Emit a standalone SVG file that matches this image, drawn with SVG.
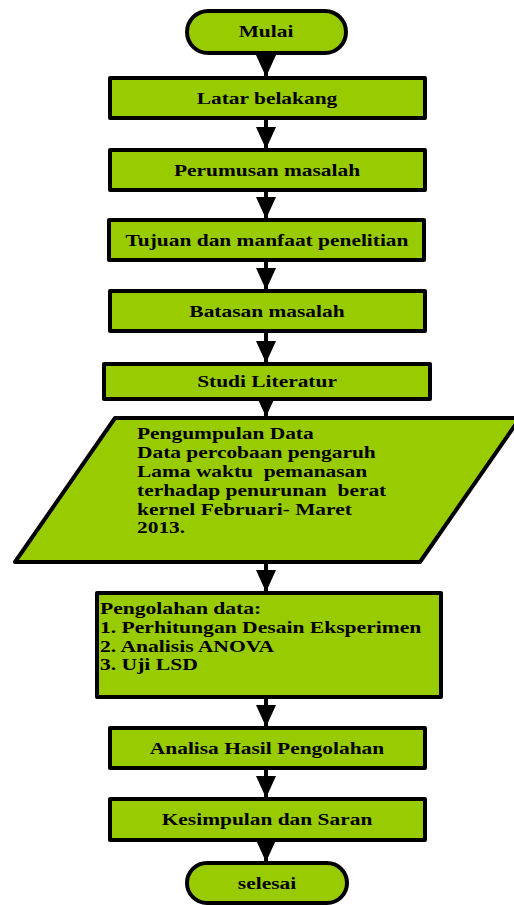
<svg xmlns="http://www.w3.org/2000/svg" width="514" height="905" viewBox="0 0 514 905">
<style>
.n{fill:#99CC00;stroke:#000;stroke-width:4;stroke-linejoin:round}
.t{font-family:"Liberation Serif","Times New Roman",serif;font-weight:bold;font-size:17px;fill:#000;white-space:pre}
.c{text-anchor:middle}
.e{stroke:#000;stroke-width:4;fill:none}
</style>
<defs>
<marker id="ah" markerUnits="userSpaceOnUse" markerWidth="22" markerHeight="20" refX="22" refY="10" orient="auto" viewBox="0 0 22 20">
<path d="M0,0 L22,10 L0,20 Z" fill="#000"/>
</marker>
</defs>
<g id="connectors">
<line class="e" x1="266" y1="53" x2="266" y2="77" marker-end="url(#ah)"/>
<line class="e" x1="266" y1="118" x2="266" y2="149" marker-end="url(#ah)"/>
<line class="e" x1="266" y1="190" x2="266" y2="219" marker-end="url(#ah)"/>
<line class="e" x1="266" y1="260" x2="266" y2="290" marker-end="url(#ah)"/>
<line class="e" x1="266" y1="331" x2="266" y2="363" marker-end="url(#ah)"/>
<line class="e" x1="266" y1="399" x2="266" y2="417" marker-end="url(#ah)"/>
<line class="e" x1="266" y1="562" x2="266" y2="592" marker-end="url(#ah)"/>
<line class="e" x1="266" y1="697" x2="266" y2="727" marker-end="url(#ah)"/>
<line class="e" x1="266" y1="768" x2="266" y2="798" marker-end="url(#ah)"/>
<line class="e" x1="266" y1="840" x2="266" y2="862" marker-end="url(#ah)"/>
</g>
<g id="mulai">
<rect class="n" x="187" y="11" width="159" height="42" rx="21"/>
<text class="t c" transform="translate(266,37) scale(1.26,1)">Mulai</text>
</g>
<g id="latar">
<rect class="n" x="110" y="78" width="315" height="40"/>
<text class="t c" transform="translate(267,104) scale(1.26,1)">Latar belakang</text>
</g>
<g id="perumusan">
<rect class="n" x="110" y="150" width="315" height="40"/>
<text class="t c" transform="translate(267,176) scale(1.26,1)">Perumusan masalah</text>
</g>
<g id="tujuan">
<rect class="n" x="109" y="220" width="315" height="40"/>
<text class="t c" transform="translate(267,246) scale(1.26,1)">Tujuan dan manfaat penelitian</text>
</g>
<g id="batasan">
<rect class="n" x="110" y="291" width="315" height="40"/>
<text class="t c" transform="translate(267,317) scale(1.26,1)">Batasan masalah</text>
</g>
<g id="studi">
<rect class="n" x="104" y="364" width="326" height="35"/>
<text class="t c" transform="translate(267,387) scale(1.26,1)">Studi Literatur</text>
</g>
<g id="pengumpulan">
<polygon class="n" points="115,418 520,418 420,562 15,562"/>
<g transform="translate(137,0) scale(1.26,1)">
<text class="t" x="0" y="439">Pengumpulan Data</text>
<text class="t" x="0" y="458">Data percobaan pengaruh</text>
<text class="t" x="0" y="477">Lama waktu  pemanasan</text>
<text class="t" x="0" y="496">terhadap penurunan  berat</text>
<text class="t" x="0" y="515">kernel Februari- Maret</text>
<text class="t" x="0" y="533">2013.</text>
</g>
</g>
<g id="pengolahan">
<rect class="n" x="97" y="593" width="344" height="104"/>
<g transform="translate(100,0) scale(1.27,1)">
<text class="t" x="0" y="614">Pengolahan data:</text>
<text class="t" x="0" y="633">1. Perhitungan Desain Eksperimen</text>
<text class="t" x="0" y="652">2. Analisis ANOVA</text>
<text class="t" x="0" y="670">3. Uji LSD</text>
</g>
</g>
<g id="analisa">
<rect class="n" x="110" y="728" width="315" height="40"/>
<text class="t c" transform="translate(267,754) scale(1.26,1)">Analisa Hasil Pengolahan</text>
</g>
<g id="kesimpulan">
<rect class="n" x="110" y="799" width="315" height="41"/>
<text class="t c" transform="translate(267,825) scale(1.26,1)">Kesimpulan dan Saran</text>
</g>
<g id="selesai">
<rect class="n" x="187" y="863" width="160" height="40" rx="20"/>
<text class="t c" transform="translate(267,889) scale(1.26,1)">selesai</text>
</g>
</svg>
